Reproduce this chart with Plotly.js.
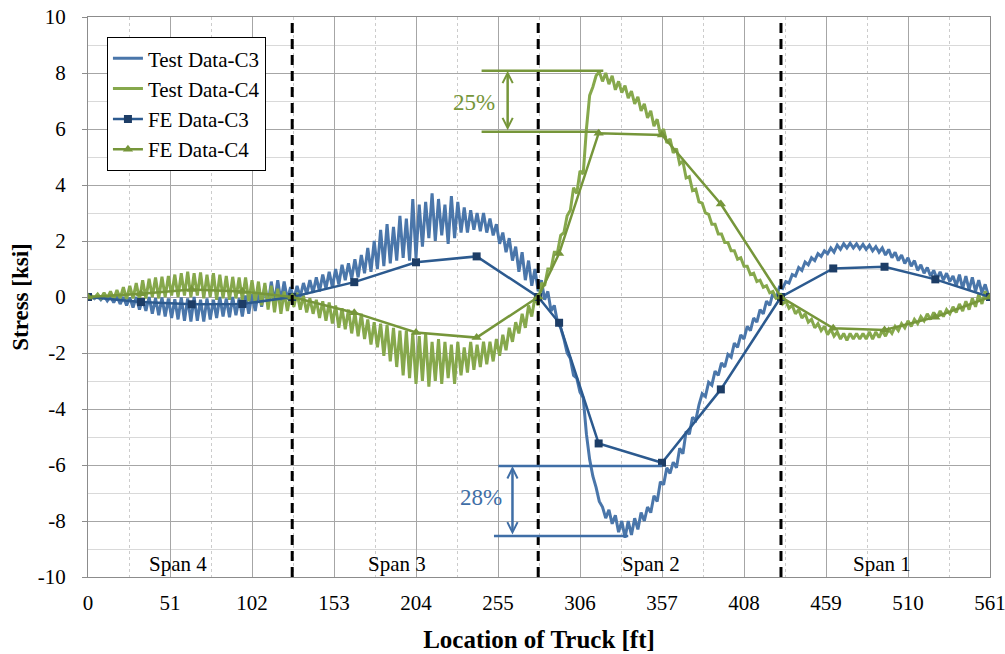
<!DOCTYPE html>
<html><head><meta charset="utf-8">
<script src="https://cdn.plot.ly/plotly-3.0.1.min.js"></script>
<style>html,body{margin:0;padding:0;background:#fff}#chart{width:1005px;height:654px}</style>
</head><body><div id="chart"></div>
<script>
// Location of truck [ft] for the measured (test) records
const testX = [
0,2,4,6,8,10,12,14,16,18,
20,22,24,26,28,30,32,34,36,38,
40,42,44,46,48,50,52,54,56,58,
60,62,64,66,68,70,72,74,76,78,
80,82,84,86,88,90,92,94,96,98,
100,102,104,106,108,110,112,114,116,118,
120,122,124,126,128,130,132,134,136,138,
140,142,144,146,148,150,152,154,156,158,
160,162,164,166,168,170,172,174,176,178,
180,182,184,186,188,190,192,194,196,198,
200,202,204,206,208,210,212,214,216,218,
220,222,224,226,228,230,232,234,236,238,
240,242,244,246,248,250,252,254,256,258,
260,262,264,266,268,270,272,274,276,278,
280,282,284,286,288,290,292,294,296,298,
300,302,304,306,308,310,312,314,316,318,
320,322,324,326,328,330,332,334,336,338,
340,342,344,346,348,350,352,354,356,358,
360,362,364,366,368,370,372,374,376,378,
380,382,384,386,388,390,392,394,396,398,
400,402,404,406,408,410,412,414,416,418,
420,422,424,426,428,430,432,434,436,438,
440,442,444,446,448,450,452,454,456,458,
460,462,464,466,468,470,472,474,476,478,
480,482,484,486,488,490,492,494,496,498,
500,502,504,506,508,510,512,514,516,518,
520,522,524,526,528,530,532,534,536,538,
540,542,544,546,548,550,552,554,556,558,
560,561];

const testC3 = [
0,0.02,-0.06,0.03,-0.1,0.04,-0.14,0.02,-0.2,0.03,
-0.25,0.0,-0.3,-0.02,-0.38,0.0,-0.45,-0.05,-0.5,0.0,
-0.6,-0.05,-0.65,-0.02,-0.7,-0.05,-0.75,-0.08,-0.8,-0.02,
-0.85,-0.05,-0.88,0.0,-0.85,-0.1,-0.88,-0.05,-0.8,-0.1,
-0.75,0.0,-0.7,-0.05,-0.72,0.0,-0.65,-0.05,-0.7,0.05,
-0.6,0.1,-0.5,0.2,-0.35,0.4,-0.25,0.55,-0.2,0.6,
-0.15,0.55,-0.1,0.35,-0.1,0.4,0.0,0.5,0.1,0.6,
0.15,0.7,0.2,0.8,0.3,0.9,0.35,1.0,0.45,1.15,
0.6,1.2,0.65,1.35,0.7,1.5,0.85,1.75,0.9,2.0,
1.0,2.4,1.1,2.6,1.2,2.5,1.3,2.9,1.4,2.8,
1.3,3.5,1.4,3.3,1.8,3.4,2.1,3.7,2.0,3.5,
2.2,3.3,1.9,3.6,2.1,3.4,2.3,3.2,2.3,3.1,
2.4,3.0,2.35,3.0,2.3,2.8,2.2,2.6,1.9,2.3,
1.6,2.1,1.3,1.8,0.9,1.6,0.6,1.3,0.4,1.0,
0.2,0.6,-0.1,0.2,-0.5,-0.3,-0.9,-1.1,-1.5,-2.0,
-2.2,-2.8,-2.9,-3.4,-3.6,-4.9,-5.8,-6.4,-6.8,-7.3,
-7.5,-7.9,-7.6,-8.1,-7.8,-8.4,-8.0,-8.6,-8.0,-8.5,
-7.9,-8.3,-7.7,-8.0,-7.5,-7.7,-7.1,-7.3,-6.6,-6.7,
-6.1,-6.3,-5.9,-6.1,-5.4,-5.6,-4.8,-4.9,-4.3,-4.4,
-3.85,-3.45,-3.55,-3.05,-3.15,-2.65,-2.8,-2.35,-2.5,-2.05,
-2.15,-1.65,-1.8,-1.35,-1.5,-1.05,-1.2,-0.75,-0.9,-0.45,
-0.6,-0.15,-0.3,0.15,-0.05,0.35,0.3,0.55,0.5,0.8,
0.75,1.05,0.95,1.25,1.15,1.4,1.3,1.55,1.45,1.65,
1.55,1.75,1.6,1.85,1.7,1.9,1.75,1.92,1.75,1.9,
1.72,1.88,1.7,1.85,1.65,1.8,1.6,1.75,1.5,1.7,
1.4,1.6,1.3,1.5,1.2,1.4,1.1,1.3,0.95,1.15,
0.85,1.05,0.75,0.95,0.65,0.9,0.6,0.85,0.55,0.75,
0.4,0.8,0.3,0.75,0.25,0.7,0.2,0.6,0.15,0.45,
0.05,0];

const testC4 = [
0,0.05,-0.03,0.1,-0.05,0.15,-0.05,0.2,-0.08,0.25,
-0.05,0.35,-0.08,0.4,-0.05,0.5,-0.1,0.6,-0.05,0.65,
0.0,0.7,-0.05,0.72,0.0,0.75,0.05,0.8,0.0,0.85,
0.05,0.9,0.0,0.85,0.05,0.88,-0.05,0.8,0.0,0.85,
-0.1,0.8,-0.05,0.75,-0.1,0.72,-0.05,0.7,-0.1,0.7,
-0.15,0.6,-0.2,0.55,-0.3,0.5,-0.45,0.4,-0.55,0.3,
-0.6,0.2,-0.5,0.1,-0.35,0.15,-0.45,0.05,-0.55,-0.05,
-0.6,-0.1,-0.75,-0.15,-0.85,-0.2,-0.95,-0.3,-1.1,-0.4,
-1.15,-0.45,-1.3,-0.55,-1.4,-0.6,-1.5,-0.8,-1.7,-0.9,
-1.8,-0.95,-2.1,-1.0,-2.3,-1.1,-2.5,-1.2,-2.8,-1.2,
-2.9,-1.3,-3.1,-1.4,-3.0,-1.3,-3.2,-1.6,-3.0,-1.5,
-3.1,-1.6,-2.9,-1.7,-3.1,-1.6,-2.8,-1.8,-2.7,-1.6,
-2.6,-1.7,-2.5,-1.6,-2.4,-1.6,-2.3,-1.5,-2.1,-1.35,
-1.9,-1.1,-1.6,-0.9,-1.3,-0.6,-1.1,-0.3,-0.7,0.0,
-0.3,0.5,0.4,1.0,1.0,1.6,1.6,2.2,2.3,2.9,
3.1,3.9,3.7,4.5,4.4,6.0,7.2,7.5,7.9,8.05,
7.7,8.0,7.6,7.9,7.4,7.7,7.3,7.55,7.1,7.35,
6.9,7.15,6.65,6.9,6.4,6.65,6.1,6.35,5.8,6.0,
5.5,5.65,5.15,5.3,4.75,4.85,4.25,4.3,3.8,3.85,
3.4,3.35,3.0,2.95,2.6,2.6,2.25,2.25,1.95,1.95,
1.65,1.65,1.35,1.4,1.1,1.1,0.8,0.85,0.55,0.6,
0.35,0.4,0.15,0.2,-0.05,0.0,-0.25,-0.15,-0.4,-0.3,
-0.6,-0.45,-0.75,-0.6,-0.9,-0.8,-1.1,-0.95,-1.2,-1.05,
-1.35,-1.15,-1.4,-1.25,-1.5,-1.3,-1.55,-1.3,-1.5,-1.3,
-1.5,-1.3,-1.5,-1.25,-1.5,-1.25,-1.45,-1.2,-1.4,-1.15,
-1.3,-1.05,-1.2,-0.95,-1.1,-0.85,-1.05,-0.8,-0.95,-0.7,
-0.85,-0.6,-0.8,-0.55,-0.75,-0.5,-0.7,-0.45,-0.6,-0.35,
-0.55,-0.25,-0.5,-0.15,-0.45,-0.05,-0.35,0.1,-0.25,0.2,
-0.1,0.05];

// Finite-element model results
const feX  = [0, 33, 64.5, 96, 127, 165.6, 204, 241.7, 280, 293, 317.6, 357, 393.6, 431, 463.5, 495.4, 527, 561];
const feC3 = [0, -0.18, -0.26, -0.25, 0, 0.53, 1.24, 1.45, 0, -0.92, -5.23, -5.92, -3.3, 0, 1.02, 1.08, 0.63, 0];
const feC4 = [0, 0.12, 0.27, 0.2, 0, -0.56, -1.27, -1.45, 0, 1.55, 5.85, 5.79, 3.32, 0, -1.12, -1.18, -0.72, 0];

// Supports and span names
const supportX  = [127, 280, 431];
const spanNames = ['Span 4', 'Span 3', 'Span 2', 'Span 1'];
const spanMid   = [56, 192, 350, 494];

// Peak difference brackets
const diffLabels = ['25%', '28%'];
const diffTestPeak = [8.08, -8.54];
const diffFEPeak   = [5.9, -6.04];

const xTicks = [0, 51, 102, 153, 204, 255, 306, 357, 408, 459, 510, 561];
const yTicks = [-10, -8, -6, -4, -2, 0, 2, 4, 6, 8, 10];

const serif = 'Liberation Serif';
const cBlue = '#4a76aa', cGreen = '#86a84c';
const cFEBlue = '#2c5a8f', cFEGreen = '#76963a';
const diffColors = [cFEGreen, '#3f6ea6'];

const traces = [
  {x: testX, y: testC3, name: 'Test Data-C3', type: 'scatter', mode: 'lines',
   line: {color: cBlue, width: 3}},
  {x: testX, y: testC4, name: 'Test Data-C4', type: 'scatter', mode: 'lines',
   line: {color: cGreen, width: 3}},
  {x: feX, y: feC3, name: 'FE Data-C3', type: 'scatter', mode: 'lines+markers',
   line: {color: cFEBlue, width: 2.5}, marker: {symbol: 'square', size: 8, color: '#1d3d66'}},
  {x: feX, y: feC4, name: 'FE Data-C4', type: 'scatter', mode: 'lines+markers',
   line: {color: cFEGreen, width: 2.5}, marker: {symbol: 'triangle-up', size: 9, color: cFEGreen}}
];

const shapes = supportX.map(s => ({type: 'line', xref: 'x', yref: 'y', x0: s, x1: s, y0: -10, y1: 10,
  line: {color: '#000', width: 3, dash: '10px,6px'}, layer: 'above'}));

// bracket geometry (layout positions)
const bracketTopX = [[244.8, 320.5], [255.2, 357]];
const bracketBotX = [[244.8, 318.4], [252.5, 336]];
const arrowX = [261, 264];
const labelX = [240, 244.5];
const labelY = [6.95, -7.15];
const topVals = [diffTestPeak[0], diffFEPeak[1]];
const botVals = [diffFEPeak[0], diffTestPeak[1]];

const annotations = [];
for (let i = 0; i < 2; i++) {
  shapes.push({type: 'line', xref: 'x', yref: 'y', x0: bracketTopX[i][0], x1: bracketTopX[i][1],
    y0: topVals[i], y1: topVals[i], line: {color: diffColors[i], width: 2.5}});
  shapes.push({type: 'line', xref: 'x', yref: 'y', x0: bracketBotX[i][0], x1: bracketBotX[i][1],
    y0: botVals[i], y1: botVals[i], line: {color: diffColors[i], width: 2.5}});
  annotations.push({x: arrowX[i], y: topVals[i], ax: arrowX[i], ay: botVals[i], axref: 'x', ayref: 'y',
    xref: 'x', yref: 'y', text: '', showarrow: true, arrowside: 'end+start', arrowhead: 5,
    startarrowhead: 5, arrowsize: 0.8, startarrowsize: 0.8, arrowwidth: 2.5, arrowcolor: diffColors[i],
    standoff: 0, startstandoff: 0});
  annotations.push({x: labelX[i], y: labelY[i], xref: 'x', yref: 'y', text: diffLabels[i], showarrow: false,
    font: {family: serif, size: 23, color: diffColors[i]}});
}
spanNames.forEach((n, i) => annotations.push({x: spanMid[i], y: -9.55, xref: 'x', yref: 'y', text: n,
  showarrow: false, font: {family: serif, size: 21, color: '#000'}}));

const layout = {
  width: 1005, height: 654,
  margin: {l: 88, r: 15, t: 17, b: 77},
  paper_bgcolor: '#fff', plot_bgcolor: '#fff',
  font: {family: serif, size: 21, color: '#000'},
  showlegend: true,
  legend: {x: 0.021, y: 0.964, xanchor: 'left', yanchor: 'top', bgcolor: '#fff',
    bordercolor: '#000', borderwidth: 1, font: {family: serif, size: 21, color: '#000'}},
  xaxis: {range: [0, 561], tickmode: 'array', tickvals: xTicks, ticktext: xTicks.map(String),
    showgrid: true, gridcolor: '#a6a6a6', gridwidth: 1, zeroline: false,
    showline: true, linecolor: '#8c8c8c', linewidth: 1, mirror: true, ticks: '',
    ticklabeloverflow: 'allow', ticklabelstandoff: 7,
    minor: {tickmode: 'linear', tick0: 25.5, dtick: 51, showgrid: true, gridcolor: '#cccccc', griddash: 'dot', gridwidth: 1},
    tickfont: {family: serif, size: 21},
    title: {text: '<b>Location of Truck [ft]</b>', font: {family: serif, size: 25}, standoff: 16}},
  yaxis: {range: [-10, 10], tickmode: 'array', tickvals: yTicks, ticktext: yTicks.map(String),
    showgrid: true, gridcolor: '#a6a6a6', gridwidth: 1, zeroline: false,
    showline: true, linecolor: '#8c8c8c', linewidth: 1, mirror: true,
    ticks: 'outside', ticklen: 5, tickcolor: '#8c8c8c', ticklabelstandoff: 12,
    minor: {tickmode: 'linear', tick0: -9, dtick: 2, showgrid: true, gridcolor: '#d9d9d9', gridwidth: 1, ticks: ''},
    tickfont: {family: serif, size: 21},
    title: {text: '<b>Stress [ksi]</b>', font: {family: serif, size: 23}, standoff: 2}},
  shapes: shapes,
  annotations: annotations
};

Plotly.newPlot('chart', traces, layout, {displayModeBar: false, staticPlot: true});
</script>
</body></html>
